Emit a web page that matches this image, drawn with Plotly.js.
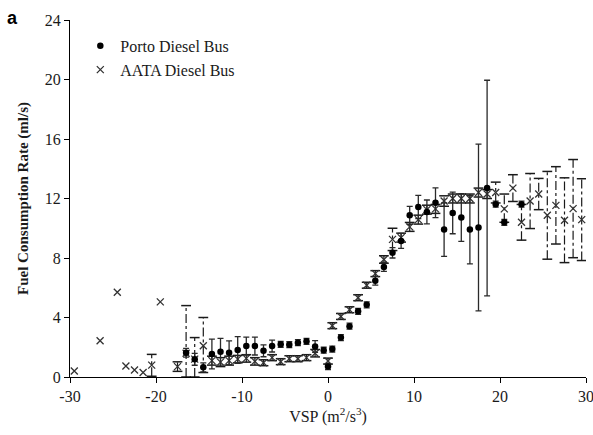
<!DOCTYPE html>
<html><head><meta charset="utf-8">
<script src="https://cdn.plot.ly/plotly-3.0.1.min.js"></script>
<style>html,body{margin:0;padding:0;background:#fff}#chart{width:593px;height:435px}</style>
</head><body><div id="chart"></div>
<script>
// Porto Diesel Bus (filled circles, solid error bars)
const portoX = [-16.5,-15.5,-14.5,-13.5,-12.5,-11.5,-10.5,-9.5,-8.5,-7.5,-6.5,-5.5,-4.5,-3.5,-2.5,-1.5,-0.5,0,0.5,1.5,2.5,3.5,4.5,5.5,6.5,7.5,8.5,9.5,10.5,11.5,12.5,13.5,14.5,15.5,16.5,17.5,18.5,19.5,20.5,22.5];
const portoY = [1.63,1.19,0.65,1.54,1.70,1.63,1.81,2.08,2.08,1.76,2.08,2.20,2.17,2.31,2.40,2.05,1.80,0.70,1.88,2.65,3.42,4.42,4.85,6.47,7.40,8.35,9.15,10.87,11.43,11.10,11.72,9.91,11.03,10.72,9.91,10.05,12.70,11.62,10.40,11.62];
const portoErr = [0.3,0.4,0.3,1.0,0.9,0.8,0.9,0.6,0.6,0.4,0.4,0.2,0.2,0.2,0.2,0.4,0.2,0.2,0.2,0.2,0.2,0.2,0.2,0.3,0.3,0.35,0.5,0.6,0.78,0.8,1.0,1.8,1.4,1.6,2.3,5.6,7.25,0.2,0.2,0.2];

// AATA Diesel Bus (x markers, dash-dot error bars)
const aataX = [-29.5,-26.5,-24.5,-23.5,-22.5,-21.5,-20.5,-19.5,
  -17.5,-16.5,-15.5,-14.5,-13.5,-12.5,-11.5,-10.5,-9.5,-8.5,-7.5,-6.5,-5.5,-4.5,-3.5,-2.5,-1.5,
  0,
  0.5,1.5,2.5,3.5,4.5,5.5,6.5,7.5,8.5,9.5,
  10.5,11.5,12.5,13.5,14.5,15.5,16.5,17.5,18.5,19.5,
  20.5,21.5,22.5,23.5,24.5,25.5,26.5,27.5,28.5,29.5];
const aataY = [0.40,2.44,5.70,0.74,0.47,0.30,0.80,5.05,
  0.70,1.60,1.20,2.10,1.10,1.00,1.10,1.20,1.25,1.05,0.96,1.30,1.03,1.23,1.23,1.30,1.60,
  1.07,
  3.45,4.07,4.52,5.33,6.17,6.95,7.90,9.25,9.37,10.09,
  10.58,11.25,11.30,11.83,12.00,12.00,12.00,12.40,12.30,12.40,
  11.30,12.70,10.40,11.83,12.30,10.87,11.54,10.54,11.32,10.58];
const aataErrPlus = [0,0,0,0,0,0,0.72,0,
  0.32,3.2,1.45,1.9,0.3,0.3,0.3,0.25,0.25,0.25,0.2,0.2,0.2,0.2,0.2,0.2,0.25,
  0.2,
  0.2,0.2,0.2,0.2,0.2,0.2,0.25,0.75,0.3,0.3,
  0.3,0.3,0.3,0.35,0.3,0.3,0.3,0.3,0.3,0.7,
  1.0,0.9,1.2,1.85,1.05,2.95,2.6,2.85,3.3,2.75];
const aataErrMinus = [0,0,0,0,0,0,0.75,0,
  0.32,1.6,1.2,1.8,0.3,0.3,0.3,0.25,0.25,0.25,0.2,0.2,0.2,0.2,0.2,0.2,0.25,
  0.2,
  0.2,0.2,0.2,0.2,0.2,0.2,0.25,0.75,0.3,0.3,
  0.3,0.3,0.3,0.35,0.3,0.3,0.3,0.3,0.3,0.7,
  0.9,0.9,1.2,1.85,1.05,2.95,2.6,2.85,3.3,2.75];

const xTicks = [-30,-20,-10,0,10,20,30];
const yTicks = [0,4,8,12,16,20,24];

const barX = [], barY = [], capX = [], capY = [];
aataX.forEach((x, i) => {
  if (aataErrPlus[i] > 0) {
    const lo = aataY[i] - aataErrMinus[i], hi = aataY[i] + aataErrPlus[i];
    barX.push(x, x, null); barY.push(lo, hi, null);
    capX.push(x, x); capY.push(lo, hi);
  }
});

const serif = 'Liberation Serif, Times New Roman, serif';
const ink = '#1a1a1a';

const traces = [
  {x: barX, y: barY, mode: 'lines', type: 'scatter', showlegend: false, hoverinfo: 'skip',
   line: {color: ink, width: 1.2, dash: 'dashdot'}},
  {x: capX, y: capY, mode: 'markers', type: 'scatter', showlegend: false, hoverinfo: 'skip',
   marker: {symbol: 'line-ew', size: 7, line: {color: ink, width: 1.5}}},
  {x: aataX, y: aataY, mode: 'markers', type: 'scatter', name: 'AATA Diesel Bus', legendrank: 2,
   marker: {symbol: 'x-thin', size: 7, color: '#333', line: {color: '#333', width: 1.3}}},
  {x: portoX, y: portoY, mode: 'markers', type: 'scatter', name: 'Porto Diesel Bus', legendrank: 1,
   marker: {symbol: 'circle', size: 6.5, color: '#000'},
   error_y: {type: 'data', array: portoErr, visible: true, color: '#2a2a2a', thickness: 1.3, width: 3}}
];

const layout = {
  width: 593, height: 435,
  margin: {l: 70, r: 7, t: 20, b: 58},
  paper_bgcolor: '#fff', plot_bgcolor: '#fff',
  font: {family: serif, size: 16, color: ink},
  showlegend: true,
  legend: {x: 0.02, y: 0.975, xanchor: 'left', yanchor: 'top', bgcolor: 'rgba(0,0,0,0)',
           font: {family: serif, size: 16, color: ink}, tracegroupgap: 6},
  xaxis: {range: [-30, 30], tickvals: xTicks, ticktext: xTicks.map(String), showgrid: false, zeroline: false,
          showline: true, linecolor: '#000', linewidth: 1, ticks: 'outside', ticklen: 5, tickcolor: '#000',
          ticklabeloverflow: 'allow',
          tickfont: {family: serif, size: 16, color: ink},
          title: {text: 'VSP (m<sup>2</sup>/s<sup>3</sup>)', font: {family: serif, size: 16, color: ink}, standoff: 3}},
  yaxis: {range: [0, 24], tickvals: yTicks, ticktext: yTicks.map(String), showgrid: false, zeroline: false,
          showline: true, linecolor: '#000', linewidth: 1, ticks: 'outside', ticklen: 5, tickcolor: '#000',
          tickfont: {family: serif, size: 16, color: ink},
          title: {text: '<b>Fuel Consumption Rate (ml/s)</b>', font: {family: serif, size: 15, color: ink}, standoff: 12}},
  annotations: [{text: '<b>a</b>', xref: 'paper', yref: 'paper', x: -0.112, y: 1.006, xanchor: 'center', yanchor: 'middle',
                 showarrow: false, font: {family: 'Liberation Sans, Arial, sans-serif', size: 18, color: '#000'}}]
};

Plotly.newPlot('chart', traces, layout, {staticPlot: true, displayModeBar: false});
</script></body></html>
